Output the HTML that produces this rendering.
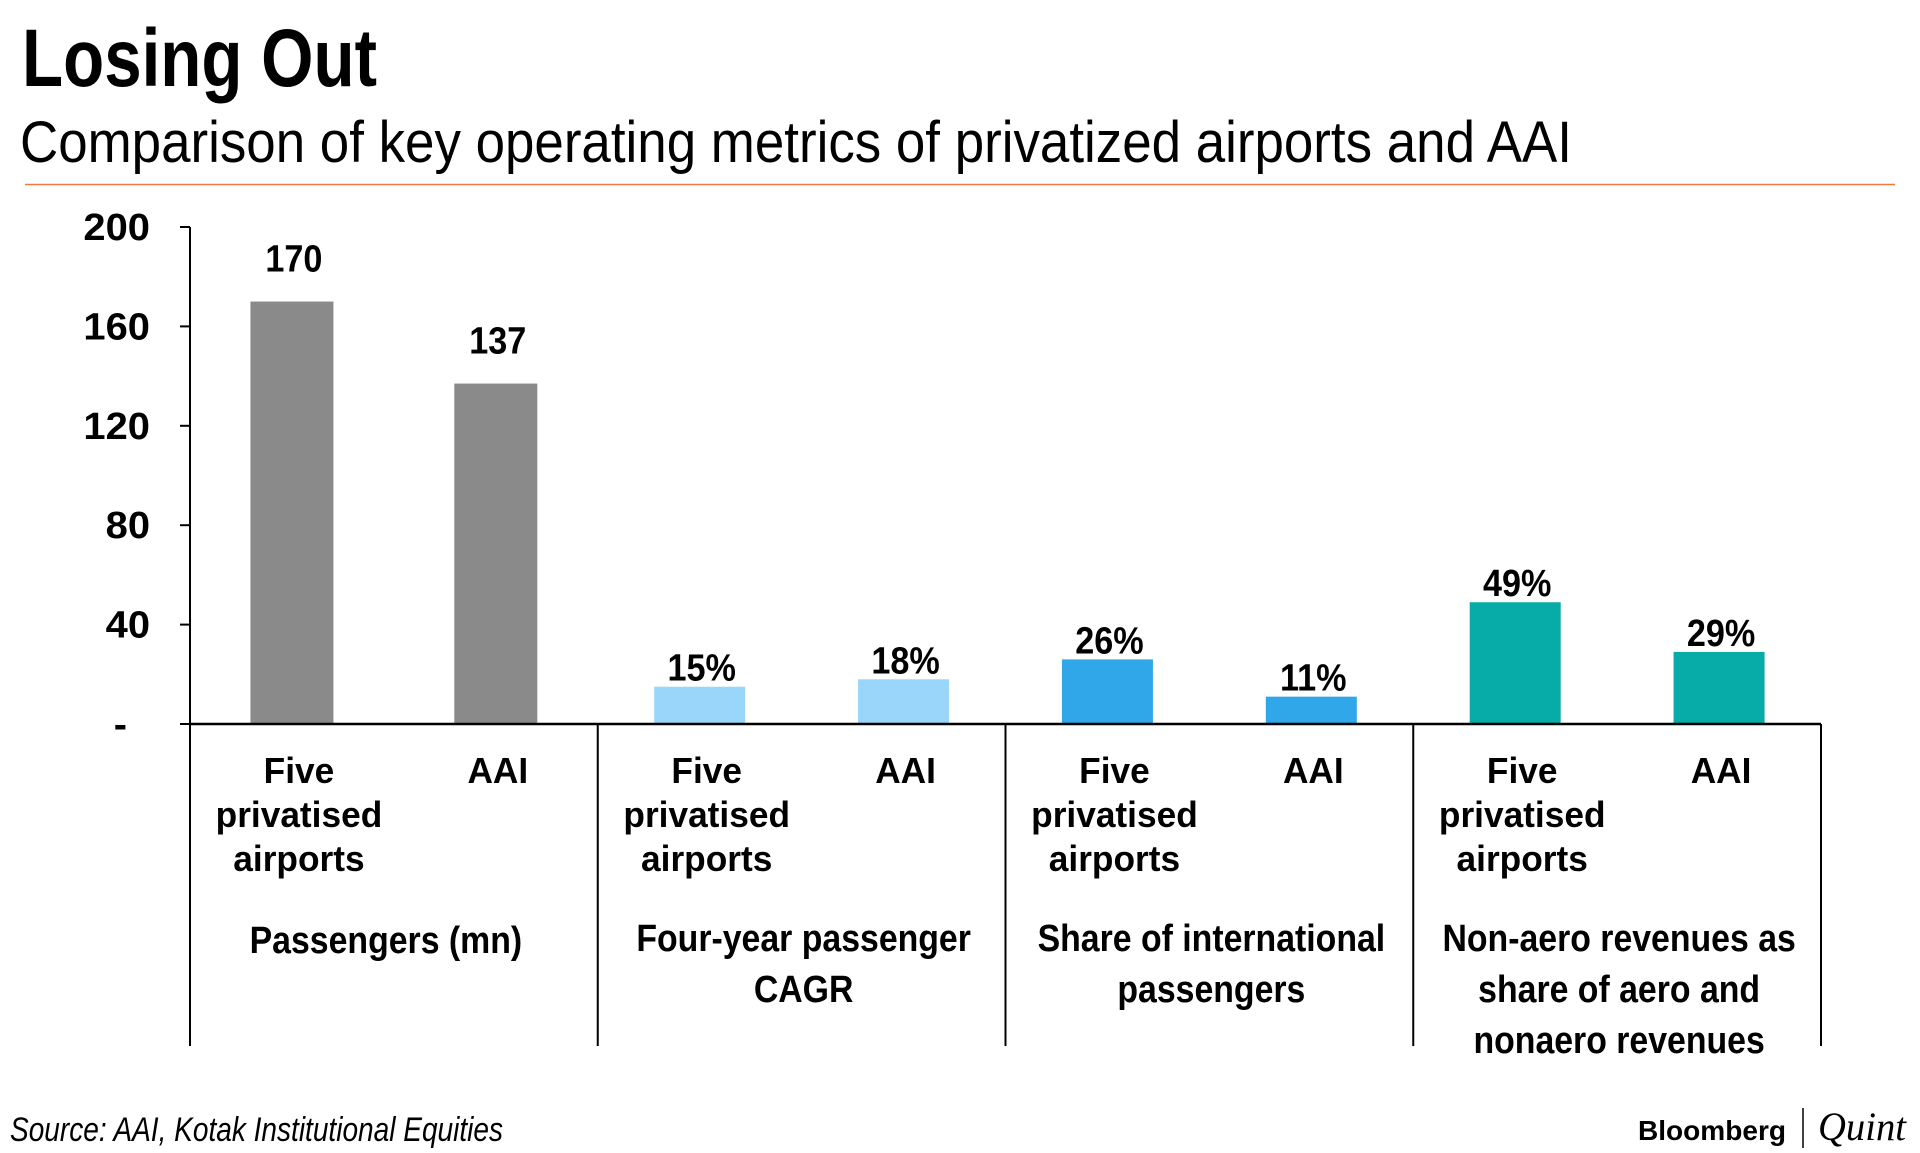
<!DOCTYPE html>
<html><head><meta charset="utf-8"><style>
html,body{margin:0;padding:0;background:#fff;}
svg{display:block;font-family:"Liberation Sans",sans-serif;}
</style></head><body>
<svg id="chart" width="1920" height="1153" viewBox="0 0 1920 1153">
<text x="22" y="86" font-size="82" font-weight="bold" textLength="355" lengthAdjust="spacingAndGlyphs">Losing Out</text>
<text x="20" y="162" font-size="58" textLength="1552" lengthAdjust="spacingAndGlyphs">Comparison of key operating metrics of privatized airports and AAI</text>
<line x1="25" y1="184.5" x2="1895" y2="184.5" stroke="#f07a3f" stroke-width="1.5"/>
<g id="plot"></g>
<text x="10" y="1141" font-size="34" font-style="italic" textLength="493" lengthAdjust="spacingAndGlyphs">Source: AAI, Kotak Institutional Equities</text>
<text x="1638" y="1140" font-size="28" font-weight="bold" textLength="148" lengthAdjust="spacingAndGlyphs">Bloomberg</text>
<line x1="1803" y1="1108" x2="1803" y2="1148" stroke="#000" stroke-width="1.5"/>
<text x="1818" y="1140" font-size="40" font-style="italic" font-family="Liberation Serif, serif" textLength="88" lengthAdjust="spacingAndGlyphs">Quint</text>
</svg>
<script>
const categories = ["Five privatised airports","AAI","Five privatised airports","AAI","Five privatised airports","AAI","Five privatised airports","AAI"];
const values = [170,137,15,18,26,11,49,29];
const valueLabels = ["170","137","15%","18%","26%","11%","49%","29%"];
const groups = [["Passengers (mn)"],["Four-year passenger","CAGR"],["Share of international","passengers"],["Non-aero revenues as","share of aero and","nonaero revenues"]];
const yTicks = [0,40,80,120,160,200];
const yTickLabels = ["-","40","80","120","160","200"];
const colors = ["#8a8a8a","#8a8a8a","#99d6fa","#99d6fa","#2fa7e9","#2fa7e9","#07aba8","#07aba8"];

const NS="http://www.w3.org/2000/svg";
const plot=document.getElementById('plot');
const X0=190, X1=1821, Y0=724, YTOP=227, YMAX=200;
const groupW=(X1-X0)/groups.length;
const y=v=>Y0-(v/YMAX)*(Y0-YTOP);
const barCenter=i=>X0+groupW*Math.floor(i/2)+groupW*(i%2===0?0.25:0.75);
function mk(tag,attrs){const e=document.createElementNS(NS,tag);for(const k in attrs)e.setAttribute(k,attrs[k]);plot.appendChild(e);return e;}
function txt(x,yy,s,size,weight,anchor,sx){
  const t=mk('text',{transform:`translate(${x},${yy}) scale(${sx},1)`,'font-size':size,'font-weight':weight,'text-anchor':anchor});
  t.textContent=s;return t;}

const ax=mk('line',{x1:X0,y1:YTOP,x2:X0,y2:Y0,stroke:'#000','stroke-width':2});


yTicks.forEach((v,i)=>{
  const tk=mk('line',{x1:X0-10,y1:y(v),x2:X0,y2:y(v),stroke:'#000','stroke-width':2});
  
  
  const t=txt(v===0?127:150,y(v)+13,yTickLabels[i],38,'bold','end',1.05);
  
  
});
values.forEach((v,i)=>{
  const c=barCenter(i);
  const bw=i<2?83:91;
  const r=mk('rect',{x:c-bw/2,y:y(v),width:bw,height:Y0-y(v),fill:colors[i]});
  
  
  const off=v>100?30:6;
  const t=txt(c+2,y(v)-off,valueLabels[i],38,'bold','middle',0.9);
  
  
  const isAAI=categories[i]==="AAI";
  const words=isAAI?["AAI"]:["Five","privatised","airports"];
  words.forEach((w,k)=>{
    const l=txt(c+(isAAI?2:7),783+k*44,w,36,'bold','middle',0.98);
    
    
  });
});
const xa=mk('line',{x1:X0,y1:Y0,x2:X1,y2:Y0,stroke:'#000','stroke-width':2.5});


for(let g=0;g<=groups.length;g++){
  const d=mk('line',{x1:X0+g*groupW,y1:Y0,x2:X0+g*groupW,y2:1046,stroke:'#000','stroke-width':2});
  
  
}
groups.forEach((lines,g)=>{
  const c=X0+g*groupW+groupW/2+(g===0?-8:2);
  const base=lines.length===1?953:951;
  lines.forEach((s,k)=>{
    const t=txt(c,base+k*51,s,38,'bold','middle',0.89);
    
    
  });
});
</script>
</body></html>
